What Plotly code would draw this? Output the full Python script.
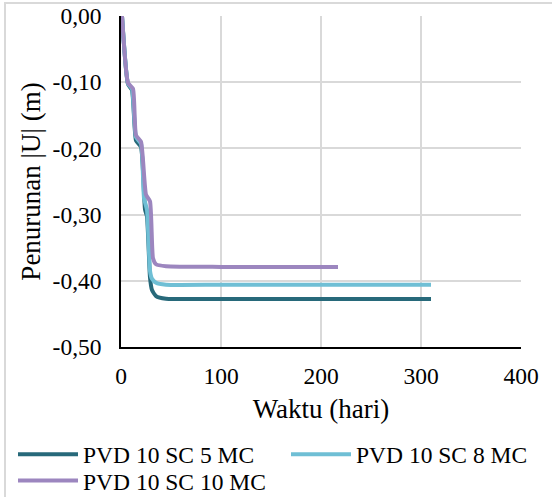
import plotly.graph_objects as go

# Settlement over time for three PVD / SC / MC configurations
days_5mc = [1, 7, 11, 15, 20, 24, 26, 29, 31, 35, 45, 100, 310]
settle_5mc = [0.0, -0.103, -0.112, -0.188, -0.198, -0.292, -0.303, -0.395, -0.414, -0.423, -0.427, -0.4275, -0.4275]

days_8mc = [1, 7, 11, 15, 20, 23, 26, 29, 31, 35, 45, 100, 310]
settle_8mc = [0.0, -0.102, -0.110, -0.183, -0.193, -0.275, -0.293, -0.385, -0.397, -0.403, -0.406, -0.406, -0.406]

days_10mc = [1, 7, 12, 15, 20, 25, 29, 32, 35, 45, 100, 217]
settle_10mc = [0.0, -0.101, -0.110, -0.180, -0.190, -0.270, -0.280, -0.366, -0.375, -0.378, -0.379, -0.379]

series_names = ["PVD 10 SC 5 MC", "PVD 10 SC 8 MC", "PVD 10 SC 10 MC"]
series_colors = ["#27697a", "#6fbfd5", "#9c86bf"]
# each series gets its own legend box so the entries sit in a 2-column grid
series_legends = ["legend", "legend2", "legend3"]

x_ticks = [0, 100, 200, 300, 400]
y_ticks = [0.0, -0.1, -0.2, -0.3, -0.4, -0.5]
y_tick_labels = ["0,00", "-0,10", "-0,20", "-0,30", "-0,40", "-0,50"]

FONT = "Times"
FS = 23.5
TITLE_FS = 27

fig = go.Figure()
for xs, ys, name, color, leg in zip(
    [days_5mc, days_8mc, days_10mc],
    [settle_5mc, settle_8mc, settle_10mc],
    series_names,
    series_colors,
    series_legends,
):
    fig.add_trace(
        go.Scatter(
            x=xs, y=ys, name=name, mode="lines", legend=leg,
            line=dict(color=color, width=4, shape="spline", smoothing=0.5),
        )
    )

legend_style = dict(
    orientation="v", xanchor="left", yanchor="top",
    itemwidth=60, font=dict(family=FONT, size=FS, color="black"),
    bgcolor="rgba(0,0,0,0)", borderwidth=0,
)

fig.update_layout(
    width=552, height=497,
    margin=dict(l=121, r=31, t=16, b=150, autoexpand=False),
    paper_bgcolor="white", plot_bgcolor="white",
    font=dict(family=FONT, size=FS, color="black"),
    showlegend=True,
    legend=dict(x=-0.27, y=-0.258, **legend_style),
    legend2=dict(x=0.4125, y=-0.258, **legend_style),
    legend3=dict(x=-0.27, y=-0.3375, **legend_style),
    shapes=[
        dict(type="rect", xref="paper", yref="paper",
             x0=-0.29, x1=1.2, y0=-0.6, y1=1.039,
             line=dict(color="#d9d9d9", width=2), fillcolor="rgba(0,0,0,0)", layer="below"),
    ],
)

fig.update_xaxes(
    range=[0, 400], tickvals=x_ticks, showgrid=True, gridcolor="#d9d9d9", gridwidth=1.5,
    showline=True, linecolor="black", linewidth=1.5, zeroline=False,
    ticks="outside", ticklen=7, tickcolor="rgba(0,0,0,0)",
    title=dict(text="Waktu (hari)", standoff=11, font=dict(family=FONT, size=TITLE_FS)),
)
fig.update_yaxes(
    range=[-0.5, 0], tickvals=y_ticks, ticktext=y_tick_labels,
    showgrid=True, gridcolor="#d9d9d9", gridwidth=1.5,
    showline=True, linecolor="black", linewidth=1.5, zeroline=False,
    ticks="outside", ticklen=13, tickcolor="rgba(0,0,0,0)",
    title=dict(text="Penurunan |U| (m)", standoff=4, font=dict(family=FONT, size=TITLE_FS)),
)

fig.write_html("out.html")
